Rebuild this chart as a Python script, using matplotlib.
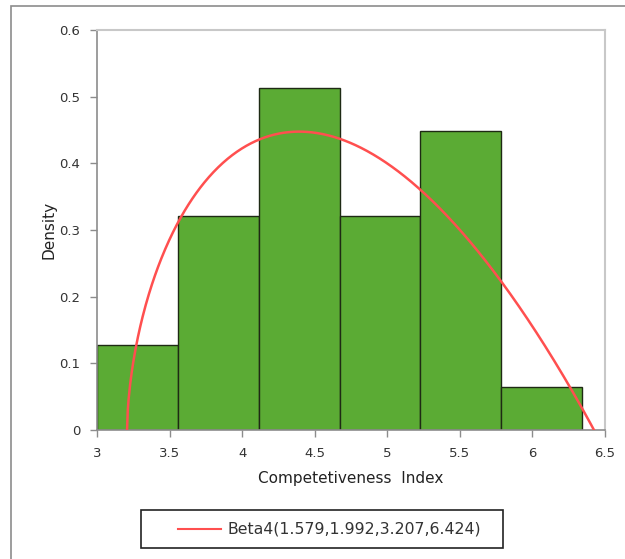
import math
import numpy as np
import matplotlib
matplotlib.use("Agg")
import matplotlib.pyplot as plt
from matplotlib.patches import Rectangle
from matplotlib.lines import Line2D

# histogram bins (Competetiveness Index) and densities
bin_edges = [3.0, 3.557, 4.114, 4.671, 5.228, 5.785, 6.342]
densities = [0.128, 0.321, 0.513, 0.321, 0.449, 0.064]

# fitted Beta4 parameters (alpha1, alpha2, min, max) as given in the legend
beta_a, beta_b, beta_min, beta_max = 1.579, 1.992, 3.207, 6.424
legend_label = "Beta4(1.579,1.992,3.207,6.424)"

xticks = [3, 3.5, 4, 4.5, 5, 5.5, 6, 6.5]
yticks = [0, 0.1, 0.2, 0.3, 0.4, 0.5, 0.6]

W, H = 625, 559


def beta4_pdf(x, a, b, lo, hi):
    z = (x - lo) / (hi - lo)
    B = math.gamma(a) * math.gamma(b) / math.gamma(a + b)
    return z ** (a - 1) * (1 - z) ** (b - 1) / (B * (hi - lo))


def fx(px):
    return px / W


def fy(py):
    return 1 - py / H


fig = plt.figure(figsize=(6.25, 5.59), dpi=100)
fig.patch.set_facecolor("white")

# outer chart frame
fig.add_artist(Rectangle((fx(10.5), -0.1), 1.2, fy(6.5) + 0.1,
                         transform=fig.transFigure, fill=False,
                         edgecolor="#8c8c8c", linewidth=1.2))

ax = fig.add_axes([fx(97), fy(430), 508 / W, 400 / H])

widths = np.diff(bin_edges)
ax.bar(bin_edges[:-1], densities, width=widths, align="edge",
       color="#5bab34", edgecolor="#1e2a14", linewidth=1.0, zorder=2)

xs = np.linspace(beta_min, beta_max, 600)
ax.plot(xs, beta4_pdf(xs, beta_a, beta_b, beta_min, beta_max),
        color="#ff4f4f", linewidth=1.8, zorder=3)

ax.set_xlim(3, 6.5)
ax.set_ylim(0, 0.6)
ax.set_xticks(xticks)
ax.set_xticklabels(["3", "3.5", "4", "4.5", "5", "5.5", "6", "6.5"])
ax.set_yticks(yticks)
ax.set_yticklabels(["0", "0.1", "0.2", "0.3", "0.4", "0.5", "0.6"])
ax.tick_params(direction="out", length=5, width=1, color="#8c8c8c",
               labelsize=9.5, labelcolor="#333333", pad=7)

for side in ["left", "bottom"]:
    ax.spines[side].set_color("#8c8c8c")
    ax.spines[side].set_linewidth(1.2)
for side in ["top", "right"]:
    ax.spines[side].set_color("#c8c8c8")
    ax.spines[side].set_linewidth(1.5)

ax.set_xlabel("Competetiveness  Index", fontsize=11, color="#222222", labelpad=8)
ax.set_ylabel("Density", fontsize=11, color="#222222", labelpad=2)

# legend box drawn below the plot
fig.add_artist(Rectangle((fx(141), fy(548)), (503 - 141) / W, (548 - 510) / H,
                         transform=fig.transFigure, fill=False,
                         edgecolor="#222222", linewidth=1.2))
fig.add_artist(Line2D([fx(178), fx(221)], [fy(529), fy(529)],
                      transform=fig.transFigure, color="#ff4f4f", linewidth=1.5))
fig.text(fx(227), fy(529), legend_label, fontsize=11.3, color="#333333",
         ha="left", va="center")

fig.savefig("out.png", dpi=100)
